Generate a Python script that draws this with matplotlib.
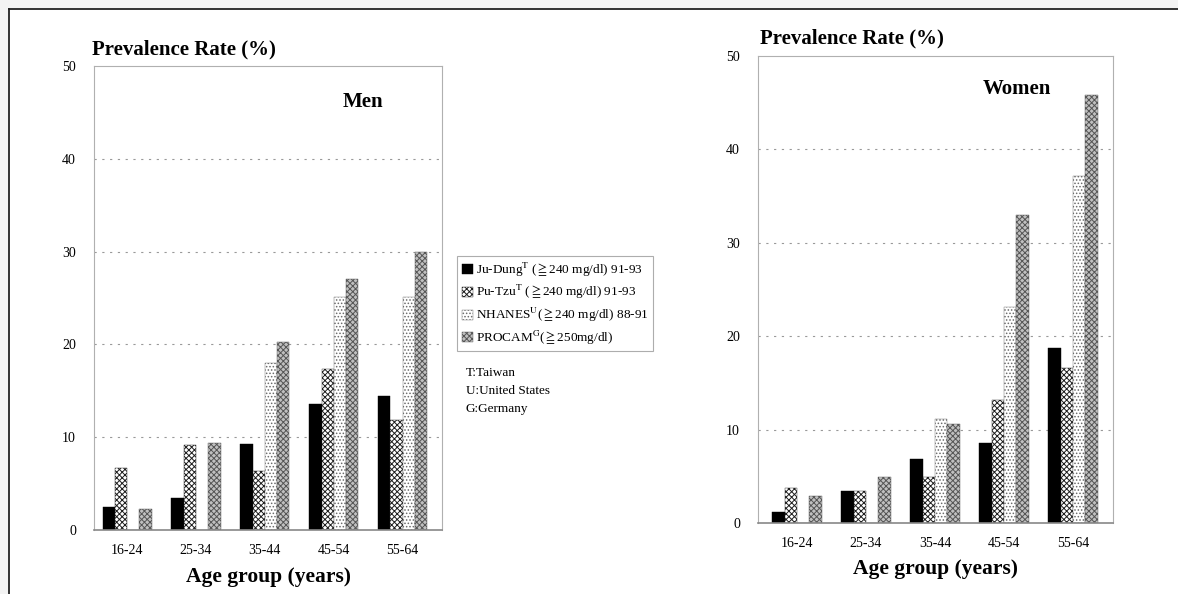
import numpy as np
import matplotlib
matplotlib.use("Agg")
import matplotlib.pyplot as plt
from matplotlib.patches import Patch, Rectangle
from matplotlib.lines import Line2D

plt.rcParams['font.family'] = ['Liberation Serif', 'DejaVu Serif']
plt.rcParams['mathtext.fontset'] = 'stix'
plt.rcParams['hatch.linewidth'] = 0.7

# 年龄组
age_groups = ['16-24', '25-34', '35-44', '45-54', '55-64']

# 男性患病率 (%)
men_judung = [2.5, 3.4, 9.3, 13.6, 14.4]
men_putzu = [6.7, 9.2, 6.4, 17.4, 11.9]
men_nhanes = [0, 0, 18.0, 25.1, 25.1]
men_procam = [2.3, 9.4, 20.3, 27.1, 30.0]

# 女性患病率 (%)
women_judung = [1.2, 3.45, 6.8, 8.6, 18.7]
women_putzu = [3.75, 3.45, 4.9, 13.2, 16.6]
women_nhanes = [0, 0, 11.1, 23.1, 37.1]
women_procam = [2.9, 4.9, 10.6, 33.0, 45.8]

series_labels = [
    r'Ju-Dung$^{\mathrm{T}}$ ($\geqq$240 mg/dl) 91-93',
    r'Pu-Tzu$^{\mathrm{T}}$ ($\geqq$240 mg/dl) 91-93',
    r'NHANES$^{\mathrm{U}}$($\geqq$240 mg/dl) 88-91',
    r'PROCAM$^{\mathrm{G}}$($\geqq$250mg/dl)',
]
notes = ['T:Taiwan', 'U:United States', 'G:Germany']

# 填充样式
styles = [
    dict(facecolor='black', edgecolor='black', hatch=None),
    dict(facecolor='white', edgecolor='#1e1e1e', hatch='xxxxxx'),
    dict(facecolor='white', edgecolor='#6a6a6a', hatch='.....'),
    dict(facecolor='#c0c0c0', edgecolor='#555555', hatch='xxxxxx'),
]

W, H = 1178, 594
fig = plt.figure(figsize=(W / 100, H / 100), dpi=100)
fig.patch.set_facecolor('#f3f3f3')
fig.patches.append(Rectangle((9 / W, 0), 1, 1 - 9 / H, transform=fig.transFigure,
                             facecolor='white', edgecolor='none', zorder=-10))
fig.lines.append(Line2D([8.5 / W, 1], [1 - 8.5 / H, 1 - 8.5 / H], transform=fig.transFigure,
                        color='#222222', lw=1.3))
fig.lines.append(Line2D([8.5 / W, 8.5 / W], [0, 1 - 8.5 / H], transform=fig.transFigure,
                        color='#222222', lw=1.3))


def draw_panel(rect, data, xlim, title, title_xy, ylab_xy, xlab_y):
    ax = fig.add_axes(rect)
    ax.set_facecolor('none')
    x = np.arange(len(age_groups))
    bw = 0.178
    for i, (vals, st) in enumerate(zip(data, styles)):
        ax.bar(x + (i - 1.5) * bw, vals, bw, linewidth=0.3, **st)
    ax.set_xlim(*xlim)
    ax.set_ylim(0, 50)
    ax.set_yticks([0, 10, 20, 30, 40, 50])
    ax.set_xticks(x)
    ax.set_xticklabels(age_groups)
    ax.tick_params(length=0, labelsize=10, pad=10)
    ax.tick_params(axis='y', pad=13)
    for y in [10, 20, 30, 40]:
        ax.axhline(y, color='#999999', lw=0.8, ls=(0, (2, 5)), zorder=0)
    for s in ax.spines.values():
        s.set_color('#b0b0b0')
        s.set_linewidth(0.8)
    ax.spines['bottom'].set_color('#888888')
    ax.spines['bottom'].set_linewidth(1.2)
    fig.text(title_xy[0] / W, 1 - title_xy[1] / H, title, ha='center', va='center',
             fontsize=15, fontweight='bold')
    fig.text(ylab_xy[0] / W, 1 - ylab_xy[1] / H, 'Prevalence Rate (%)', ha='left',
             va='center', fontsize=15, fontweight='bold')
    x0 = rect[0] + rect[2] / 2
    fig.text(x0, 1 - xlab_y / H, 'Age group (years)', ha='center', va='center',
             fontsize=15.5, fontweight='bold')
    return ax


men = [men_judung, men_putzu, men_nhanes, men_procam]
women = [women_judung, women_putzu, women_nhanes, women_procam]

draw_panel([94 / W, 1 - 530 / H, 348 / W, 464 / H], men, (-0.48, 4.57),
           'Men', (363, 102), (92, 49), 577)
draw_panel([758 / W, 1 - 523 / H, 355 / W, 467 / H], women, (-0.565, 4.58),
           'Women', (1017, 89), (760, 38), 569)

handles = [Patch(**st, linewidth=0.3) for st in styles]
leg = fig.legend(handles, series_labels, loc='upper left',
                 bbox_to_anchor=(457 / W, 1 - 256 / H), fontsize=9.5,
                 frameon=True, fancybox=False, handlelength=0.9, handleheight=0.8,
                 handletextpad=0.2, borderpad=0.35, labelspacing=0.35, borderaxespad=0)
leg.get_frame().set_edgecolor('#999999')
leg.get_frame().set_linewidth(0.8)

for i, t in enumerate(notes):
    fig.text(466 / W, 1 - (373 + i * 18) / H, t, ha='left', va='center', fontsize=9.5)

fig.savefig('out.png', dpi=100, facecolor=fig.get_facecolor())
